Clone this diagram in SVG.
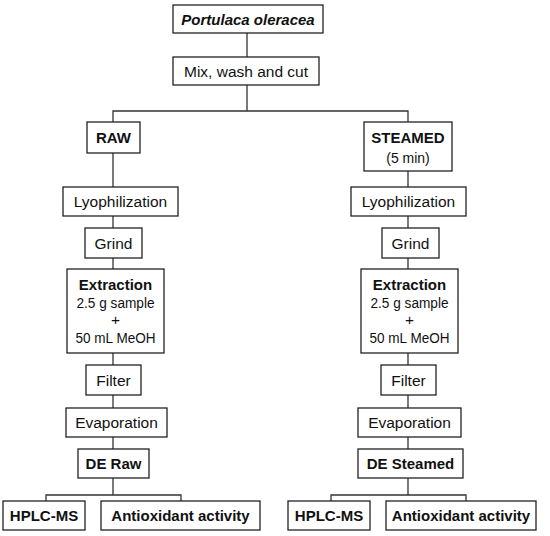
<svg xmlns="http://www.w3.org/2000/svg" width="550" height="536" viewBox="0 0 550 536">
<style>
rect{fill:#fff;stroke:#222;stroke-width:1.3}
.c line,.c path{stroke:#333;stroke-width:1.3;fill:none}
text{font-family:"Liberation Sans",Arial,sans-serif;font-size:15.5px;fill:#111;text-anchor:middle}
.b{font-weight:bold;font-size:15px}
.i{font-style:italic;font-weight:bold;font-size:15px}
.s{font-size:14px}
</style>
<rect x="0" y="0" width="550" height="536" style="stroke:none"/>
<g class="c" id="connectors">
<line x1="247" y1="33" x2="247" y2="57"/>
<path d="M247 85V111M113 122V111H408V122"/>
<line x1="113" y1="153" x2="113" y2="187"/>
<line x1="113" y1="216" x2="113" y2="228"/>
<line x1="113" y1="258" x2="113" y2="269"/>
<line x1="113" y1="353" x2="113" y2="365"/>
<line x1="113" y1="395" x2="113" y2="408"/>
<line x1="113" y1="437" x2="113" y2="449"/>
<path d="M113 478V495M46 501V495H181V501"/>
<line x1="408" y1="171" x2="408" y2="187"/>
<line x1="408" y1="216" x2="408" y2="228"/>
<line x1="408" y1="258" x2="408" y2="269"/>
<line x1="408" y1="353" x2="408" y2="365"/>
<line x1="408" y1="395" x2="408" y2="408"/>
<line x1="408" y1="437" x2="408" y2="449"/>
<path d="M408 478V495M331 501V495H466V501"/>
</g>
<g id="portulaca"><rect x="173" y="5" width="150" height="28"/><text class="i" x="248" y="24.5">Portulaca oleracea</text></g>
<g id="mix"><rect x="173" y="57" width="146" height="28"/><text x="246" y="76.5">Mix, wash and cut</text></g>
<g id="raw"><rect x="87" y="122" width="53" height="31"/><text class="b" x="113.5" y="143">RAW</text></g>
<g id="steamed"><rect x="364" y="122" width="88" height="49"/><text class="b" x="408" y="143">STEAMED</text><text class="s" x="408" y="163">(5 min)</text></g>
<g id="lyo-raw"><rect x="63" y="187" width="115" height="29"/><text x="120.5" y="207">Lyophilization</text></g>
<g id="lyo-steamed"><rect x="351" y="187" width="115" height="29"/><text x="408.5" y="207">Lyophilization</text></g>
<g id="grind-raw"><rect x="85" y="228" width="57" height="30"/><text x="113.5" y="248.5">Grind</text></g>
<g id="grind-steamed"><rect x="382" y="228" width="57" height="30"/><text x="410.5" y="248.5">Grind</text></g>
<g id="extraction-raw"><rect x="67" y="269" width="97" height="84"/><text class="b" x="115.5" y="290">Extraction</text><text x="115.5" y="308" textLength="78" lengthAdjust="spacingAndGlyphs">2.5 g sample</text><text x="115.5" y="325">+</text><text x="115.5" y="343" textLength="80" lengthAdjust="spacingAndGlyphs">50 mL MeOH</text></g>
<g id="extraction-steamed"><rect x="361" y="269" width="97" height="84"/><text class="b" x="409.5" y="290">Extraction</text><text x="409.5" y="308" textLength="78" lengthAdjust="spacingAndGlyphs">2.5 g sample</text><text x="409.5" y="325">+</text><text x="409.5" y="343" textLength="80" lengthAdjust="spacingAndGlyphs">50 mL MeOH</text></g>
<g id="filter-raw"><rect x="86" y="365" width="55" height="30"/><text x="113.5" y="385.5">Filter</text></g>
<g id="filter-steamed"><rect x="381" y="365" width="55" height="30"/><text x="408.5" y="385.5">Filter</text></g>
<g id="evap-raw"><rect x="66" y="408" width="101" height="29"/><text x="116.5" y="427.5">Evaporation</text></g>
<g id="evap-steamed"><rect x="358" y="408" width="103" height="29"/><text x="409.5" y="427.5">Evaporation</text></g>
<g id="de-raw"><rect x="78" y="449" width="71" height="29"/><text class="b" x="113.5" y="468.5">DE Raw</text></g>
<g id="de-steamed"><rect x="358" y="449" width="105" height="29"/><text class="b" x="410.5" y="468.5">DE Steamed</text></g>
<g id="hplc-raw"><rect x="3" y="501" width="82" height="29"/><text class="b" x="44" y="521">HPLC-MS</text></g>
<g id="anti-raw"><rect x="101" y="501" width="159" height="29"/><text class="b" x="180.5" y="521">Antioxidant activity</text></g>
<g id="hplc-steamed"><rect x="288" y="501" width="82" height="29"/><text class="b" x="329" y="521">HPLC-MS</text></g>
<g id="anti-steamed"><rect x="386" y="501" width="150" height="29"/><text class="b" x="461" y="521">Antioxidant activity</text></g>
</svg>
